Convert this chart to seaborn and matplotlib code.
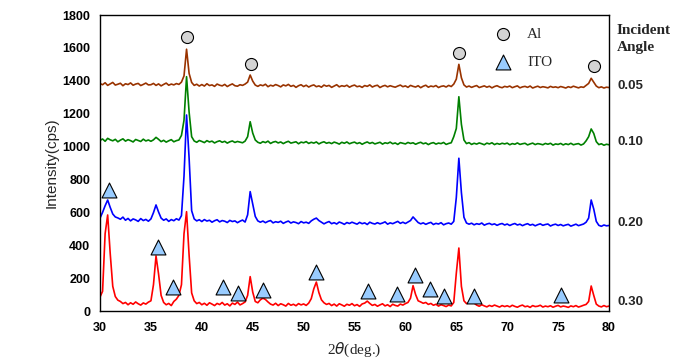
import numpy as np
import pandas as pd
import matplotlib
matplotlib.use("Agg")
import matplotlib.pyplot as plt
import seaborn as sns

# scan: 2theta from 30 to 80 deg, 0.25 deg step
two_theta = np.arange(30.0, 80.01, 0.25)

angle_labels = ["0.05", "0.10", "0.20", "0.30"]
line_colors = ["#993300", "#008000", "#0000ff", "#ff0000"]
label_levels = [1368, 1028, 535, 55]

# intensity (cps), one row per 5 deg
int_005 = [
    1383, 1376, 1388, 1372, 1381, 1390, 1374, 1379, 1385, 1370, 1382, 1377, 1387, 1373, 1380, 1384, 1371, 1378, 1386, 1375,
    1376, 1384, 1372, 1381, 1369, 1378, 1386, 1373, 1380, 1375, 1383, 1378, 1392, 1430, 1592, 1445, 1390, 1372, 1379, 1368,
    1377, 1368, 1382, 1371, 1375, 1366, 1380, 1373, 1369, 1378, 1365, 1374, 1381, 1370, 1367, 1376, 1372, 1380, 1392, 1435,
    1398, 1374, 1366, 1375, 1370, 1379, 1364, 1373, 1368, 1377, 1371, 1363, 1375, 1369, 1378, 1366, 1372, 1360, 1370, 1376,
    1365, 1373, 1362, 1370, 1375, 1364, 1369, 1361, 1374, 1367, 1372, 1360, 1368, 1376, 1363, 1370, 1366, 1373, 1361, 1369,
    1374, 1364, 1368, 1360, 1371, 1366, 1375, 1362, 1369, 1373, 1359, 1367, 1372, 1363, 1370, 1365, 1361, 1368, 1374, 1364,
    1369, 1360, 1372, 1366, 1362, 1370, 1358, 1367, 1373, 1361, 1368, 1364, 1371, 1359, 1366, 1369, 1362, 1372, 1365, 1380,
    1410, 1500, 1418, 1375, 1362, 1368, 1360, 1366, 1371, 1359, 1364, 1369, 1361, 1367, 1357, 1365, 1370, 1362, 1358, 1366,
    1362, 1368, 1358, 1364, 1369, 1357, 1363, 1366, 1360, 1368, 1356, 1362, 1367, 1359, 1364, 1361, 1357, 1366, 1360, 1363,
    1358, 1365, 1361, 1356, 1364, 1359, 1367, 1362, 1357, 1363, 1360, 1372, 1384, 1415, 1392, 1368, 1358, 1363, 1356, 1361,
    1359,
]
int_010 = [
    1038, 1046, 1032, 1050, 1041, 1035, 1044, 1029, 1039, 1047, 1033, 1042, 1036, 1028, 1043, 1037, 1031, 1045, 1034, 1040,
    1032, 1041, 1056, 1044, 1030, 1038, 1027, 1035, 1042, 1029, 1036, 1040, 1068, 1160, 1425, 1210, 1060, 1034, 1026, 1037,
    1031, 1024, 1036, 1028, 1033, 1022, 1030, 1035, 1026, 1032, 1021, 1029, 1034, 1025, 1031, 1027, 1023, 1033, 1060, 1151,
    1082, 1040, 1026, 1020, 1030, 1024, 1033, 1019, 1027, 1031, 1022, 1028, 1018, 1026, 1032, 1021, 1025, 1029, 1017, 1027,
    1023, 1030, 1019, 1026, 1021, 1028, 1016, 1024, 1029, 1020, 1025, 1018, 1027, 1022, 1015, 1026, 1020, 1028, 1017, 1023,
    1027, 1018, 1024, 1014, 1022, 1028, 1019, 1025, 1016, 1021, 1026, 1015, 1023, 1019, 1027, 1017, 1022, 1013, 1024, 1020,
    1016, 1025, 1019, 1023, 1014, 1021, 1026, 1017, 1022, 1012, 1020, 1024, 1015, 1021, 1018, 1025, 1013, 1019, 1023, 1060,
    1110, 1303, 1135, 1040, 1018, 1024, 1013, 1020, 1015, 1022, 1017, 1011, 1021, 1016, 1023, 1012, 1019, 1014, 1020, 1016,
    1021, 1011, 1018, 1014, 1022, 1013, 1017, 1020, 1010, 1016, 1021, 1012, 1018, 1015, 1011, 1019, 1014, 1020, 1009, 1016,
    1013, 1019, 1010, 1017, 1012, 1020, 1011, 1015, 1018, 1009, 1016, 1035, 1060, 1107, 1080, 1030, 1012, 1017, 1008, 1014,
    1011,
]
int_020 = [
    565, 600, 640, 675, 630, 590, 572, 566, 558, 571, 552, 563, 548, 560, 554, 545, 562, 550, 557, 546,
    560, 598, 645, 602, 565, 552, 560, 545, 556, 549, 561, 553, 580, 820, 1192, 930, 610, 560, 548, 555,
    544, 556, 547, 552, 540, 549, 555, 542, 550, 546, 538, 551, 544, 548, 537, 546, 553, 541, 585, 726,
    650, 575, 548, 540, 547, 537, 545, 550, 536, 543, 539, 546, 533, 541, 547, 535, 542, 538, 531, 544,
    536, 540, 533, 548, 558, 565, 550, 540, 530, 538, 544, 531, 537, 529, 541, 535, 527, 538, 532, 540,
    534, 528, 539, 531, 536, 526, 540, 533, 529, 537, 530, 535, 542, 528, 536, 531, 538, 545, 533, 540,
    532, 541, 550, 572, 555, 538, 530, 536, 527, 534, 539, 526, 533, 529, 537, 524, 531, 535, 528, 545,
    690, 929, 720, 570, 535, 528, 534, 524, 531, 527, 535, 522, 529, 533, 525, 530, 521, 528, 532, 523,
    529, 520, 527, 532, 523, 528, 519, 526, 531, 522, 527, 518, 525, 530, 521, 526, 529, 517, 524, 528,
    520, 526, 518, 523, 527, 516, 522, 528, 519, 524, 529, 540, 565, 675, 620, 545, 521, 515, 523, 518,
    520,
]
int_030 = [
    85, 120, 470, 584, 350, 150, 88, 66, 58, 45, 52, 38, 50, 41, 55, 44, 36, 49, 42, 54,
    62, 160, 335, 225, 95, 52, 38, 46, 33, 58, 72, 95, 160, 470, 604, 340, 110, 62, 45, 52,
    38, 47, 35, 50, 42, 33, 46, 39, 52, 36, 44, 31, 48, 40, 54, 37, 45, 55, 95, 209,
    115, 58, 50, 68, 78, 70, 55, 42, 36, 47, 33, 44, 38, 30, 46, 35, 41, 32, 45, 37,
    43, 34, 48, 75, 135, 176, 112, 68, 50, 40, 46, 33, 42, 30, 44, 37, 29, 41, 35, 45,
    32, 39, 28, 43, 48, 60, 46, 34, 40, 29, 37, 44, 31, 38, 27, 41, 34, 30, 42, 36,
    45, 52, 78, 154, 100, 62, 55, 47, 52, 40, 46, 35, 41, 30, 38, 33, 27, 36, 31, 52,
    230, 383, 150, 62, 45, 50, 57, 48, 36, 29, 38, 31, 25, 34, 28, 36, 30, 24, 33, 27,
    32, 25, 35, 28, 23, 31, 36, 26, 30, 22, 33, 27, 29, 35, 24, 30, 26, 32, 23, 29,
    34, 25, 30, 27, 22, 31, 26, 33, 24, 29, 35, 40, 58, 152, 95, 42, 30, 25, 33, 26,
    30,
]

# peak markers
al_x = [38.55, 44.80, 65.30, 78.56]
al_y = [1665, 1500, 1571, 1492]
ito_x = [30.88, 35.67, 37.14, 42.11, 43.59, 45.98, 51.19, 56.29, 59.17, 60.94, 62.42, 63.80, 66.74, 75.29]
ito_y = [736, 391, 148, 144, 111, 128, 239, 124, 103, 217, 136, 93, 93, 99]

df = pd.concat([
    pd.DataFrame({"2theta": two_theta, "Intensity": vals, "Angle": lab})
    for lab, vals in zip(angle_labels, [int_005, int_010, int_020, int_030])
])

sns.set_style("white")
plt.rcParams["font.family"] = ["Liberation Sans", "DejaVu Sans"]

fig = plt.figure(figsize=(6.8, 3.59), dpi=100)
ax = fig.add_axes([0.1471, 0.1337, 0.7485, 0.8245])

sns.lineplot(data=df, x="2theta", y="Intensity", hue="Angle", hue_order=angle_labels,
             palette=line_colors, linewidth=1.2, estimator=None, legend=False, ax=ax)

sns.scatterplot(x=al_x, y=al_y, marker="o", s=75, color="#d4d4d4", edgecolor="black",
                linewidth=0.8, label="Al", zorder=5, ax=ax)
sns.scatterplot(x=ito_x, y=ito_y, marker="^", s=115, color="#99ccff", edgecolor="black",
                linewidth=0.8, label="ITO", zorder=5, ax=ax)

ax.set_xlim(30, 80)
ax.set_ylim(0, 1800)
ax.set_xticks(range(30, 81, 5))
ax.set_yticks(range(0, 1801, 200))
for lbl in ax.get_xticklabels() + ax.get_yticklabels():
    lbl.set_fontweight("bold")
    lbl.set_fontsize(9)
ax.tick_params(axis="x", direction="in", length=3, width=0.8, pad=8, colors="black")
ax.tick_params(axis="y", length=0, pad=7, colors="black")
for sp in ax.spines.values():
    sp.set_color("black")
    sp.set_linewidth(1.0)

ax.set_xlabel(r"2$\theta$(deg.)", fontsize=11, family="Liberation Serif")
ax.xaxis.set_label_coords(0.5, -0.10)
ax.set_ylabel("Intensity(cps)", fontsize=11)
ax.yaxis.set_label_coords(-0.081, 0.5)

leg = ax.legend(loc="upper left", bbox_to_anchor=(0.749, 0.978), frameon=False,
                prop={"family": "Liberation Serif", "size": 11}, labelspacing=0.9,
                handletextpad=0.6, borderaxespad=0)

for lab, lvl in zip(angle_labels, label_levels):
    ax.text(1.016, lvl, lab, transform=ax.get_yaxis_transform(), ha="left", va="center",
            fontsize=9.5, fontweight="bold")
fig.text(617 / 680, 1 - 31 / 359, "Incident", ha="left", va="center", fontsize=11,
         fontweight="bold", family="Liberation Serif")
fig.text(617 / 680, 1 - 48 / 359, "Angle", ha="left", va="center", fontsize=11,
         fontweight="bold", family="Liberation Serif")

fig.savefig("out.png", dpi=100)
